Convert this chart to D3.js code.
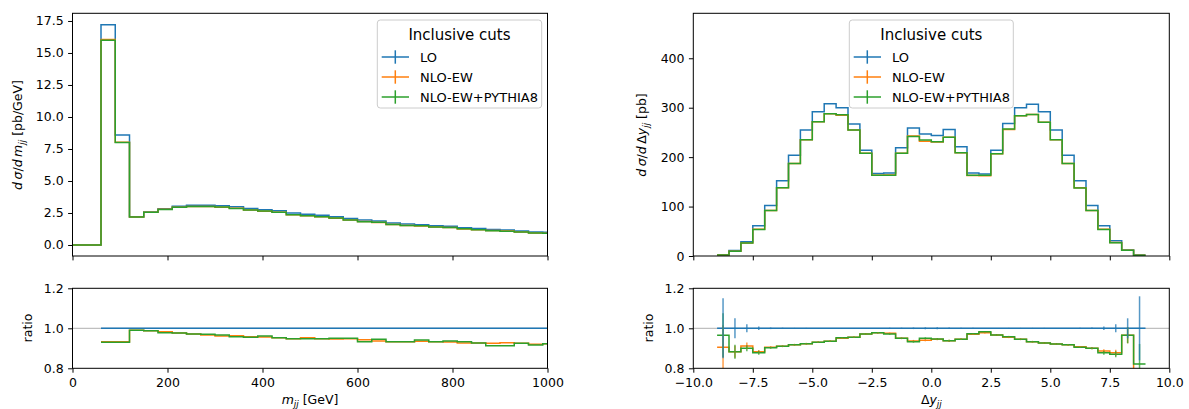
<!DOCTYPE html>
<html><head><meta charset="utf-8">
<script src="https://cdn.jsdelivr.net/npm/d3@7"></script>
<style>
body{margin:0;background:#fff;}
svg{display:block;font-family:"DejaVu Sans",sans-serif;}
</style></head><body>
<svg id="c" width="1189" height="409"></svg>
<script>
// ---------- DATA ----------
const seriesNames = ["LO", "NLO-EW", "NLO-EW+PYTHIA8"];
const legendTitle = "Inclusive cuts";

// m_jj bin edges [GeV]
const mjjEdges = [0,30,60,90,120,150,180,210,240,270,300,330,360,390,420,450,480,510,540,570,600,630,660,690,720,750,780,810,840,870,900,930,960,990,1020];
const mjjLO  = [0,0,17.2,8.6,2.21,2.58,2.84,3.02,3.10,3.10,3.07,2.99,2.86,2.76,2.68,2.50,2.40,2.32,2.21,2.06,1.95,1.87,1.72,1.64,1.59,1.51,1.46,1.35,1.28,1.22,1.17,1.09,1.02,0.99];
const mjjNLO = [0,0,16.05,8.02,2.19,2.55,2.79,2.95,3.01,3.00,2.95,2.88,2.74,2.64,2.55,2.37,2.29,2.20,2.09,1.95,1.84,1.75,1.60,1.53,1.49,1.41,1.36,1.25,1.19,1.13,1.09,1.01,0.94,0.91];
const mjjPY  = [0,0,16.0,8.0,2.19,2.55,2.78,2.95,3.01,3.01,2.97,2.86,2.73,2.66,2.55,2.37,2.28,2.20,2.10,1.96,1.82,1.77,1.60,1.53,1.50,1.41,1.37,1.26,1.19,1.11,1.07,1.01,0.94,0.91];
const mjjRatioLO  = [null,null,1,1,1,1,1,1,1,1,1,1,1,1,1,1,1,1,1,1,1,1,1,1,1,1,1,1,1,1,1,1,1,1];
const mjjRatioNLO = [null,null,0.933,0.933,0.99,0.988,0.983,0.977,0.972,0.967,0.962,0.963,0.958,0.957,0.953,0.948,0.953,0.948,0.947,0.948,0.943,0.937,0.933,0.933,0.935,0.933,0.932,0.927,0.927,0.925,0.928,0.925,0.92,0.923];
const mjjRatioPY  = [null,null,0.930,0.930,0.99,0.988,0.978,0.977,0.972,0.970,0.967,0.958,0.955,0.962,0.953,0.948,0.948,0.948,0.950,0.950,0.933,0.945,0.933,0.933,0.942,0.933,0.937,0.933,0.927,0.913,0.913,0.925,0.917,0.923];

// Delta y_jj bin edges
const dyEdges = [-9,-8.5,-8,-7.5,-7,-6.5,-6,-5.5,-5,-4.5,-4,-3.5,-3,-2.5,-2,-1.5,-1,-0.5,0,0.5,1,1.5,2,2.5,3,3.5,4,4.5,5,5.5,6,6.5,7,7.5,8,8.5,9];
const dyLO  = [2,11,29,61,102,152,204,255,292,308,300,267,214,167,168,219,259,247,244,256,221,168,166,214,268,300,307,292,255,204,152,102,61,31,12,2];
const dyNLO = [1.8,9.7,26.4,53.9,92.3,138.3,187.3,235.4,271.6,288,285,255,208,163.3,163.8,208,242.7,232.2,230.6,240.1,208.8,163,162.3,207,256,283.5,286.4,270.7,235.1,187.3,138,91.8,54.1,27.2,11.6,1.6];
const dyPY  = [1.9,9.7,26.1,53.6,92.1,138.3,187.3,235.4,271.6,288,285.9,255,208,163.3,163.3,208,241.6,234.7,231.1,240.1,208.8,163.5,163.2,207,256.7,283.5,286.4,270.7,235.1,187.3,137.6,91.8,53.6,27,11.6,1.6];
const dyRatioLO  = [1,1,1,1,1,1,1,1,1,1,1,1,1,1,1,1,1,1,1,1,1,1,1,1,1,1,1,1,1,1,1,1,1,1,1,1];
const dyRatioNLO = [0.905,0.883,0.912,0.883,0.905,0.91,0.918,0.923,0.93,0.935,0.95,0.955,0.972,0.978,0.975,0.95,0.937,0.94,0.945,0.938,0.945,0.97,0.978,0.967,0.955,0.945,0.933,0.927,0.922,0.918,0.908,0.9,0.887,0.878,0.965,0.78];
const dyRatioPY  = [0.965,0.883,0.9,0.878,0.903,0.91,0.918,0.923,0.93,0.935,0.953,0.955,0.972,0.978,0.972,0.95,0.933,0.95,0.947,0.938,0.945,0.973,0.983,0.967,0.958,0.945,0.933,0.927,0.922,0.918,0.905,0.9,0.878,0.87,0.965,0.822];
const dyErrLO  = [0.15,0.05,0.02,0.009,0.004,0.003,0.002,0.002,0.002,0.002,0.002,0.002,0.002,0.002,0.003,0.003,0.004,0.005,0.005,0.004,0.003,0.003,0.002,0.002,0.002,0.002,0.002,0.002,0.002,0.002,0.003,0.004,0.009,0.02,0.05,0.16];
const dyErrNLO = [0.11,0.03,0.017,0.008,0.005,0.004,0.004,0.004,0.004,0.004,0.004,0.004,0.004,0.004,0.004,0.004,0.005,0.005,0.005,0.005,0.004,0.004,0.004,0.004,0.004,0.004,0.004,0.004,0.004,0.004,0.004,0.005,0.008,0.015,0.04,0.02];
const dyErrPY  = [0.11,0.035,0.015,0.01,0.005,0.004,0.004,0.004,0.004,0.004,0.004,0.004,0.004,0.004,0.004,0.004,0.005,0.005,0.005,0.005,0.004,0.004,0.004,0.004,0.004,0.004,0.004,0.004,0.004,0.004,0.004,0.005,0.01,0.015,0.04,0.1];

const mjjTicks = [0,200,400,600,800,1000];
const mjjYTicks = [0,2.5,5,7.5,10,12.5,15,17.5];
const dyTicks = [-10,-7.5,-5,-2.5,0,2.5,5,7.5,10];
const dyYTicks = [0,100,200,300,400];
const ratioTicks = [0.8,1.0,1.2];

// ---------- STYLE ----------
const colors = ["#1f77b4","#ff7f0e","#2ca02c"];
const FS = 12.5, TICK = 4.4, PAD = 4.4;
const svg = d3.select("#c");

const L = {x0:72.5, x1:547.5}, R = {x0:693.3, x1:1169.3};
const TOP = {y0:13.3, y1:256}, BOT = {y0:288.3, y1:368.3};

function panel(id, xr, yr, xdom, ydom){
  const x = d3.scaleLinear().domain(xdom).range([xr.x0, xr.x1]);
  const y = d3.scaleLinear().domain(ydom).range([yr.y1, yr.y0]);
  svg.append("clipPath").attr("id", id).append("rect")
    .attr("x", xr.x0).attr("y", yr.y0).attr("width", xr.x1-xr.x0).attr("height", yr.y1-yr.y0);
  const g = svg.append("g").attr("clip-path", `url(#${id})`);
  return {x, y, g, xr, yr};
}

function frame(p, xticks, yticks, fmtX, fmtY, showXLabels){
  const ax = svg.append("g");
  ax.append("rect").attr("x", p.xr.x0).attr("y", p.yr.y0)
    .attr("width", p.xr.x1-p.xr.x0).attr("height", p.yr.y1-p.yr.y0)
    .attr("fill","none").attr("stroke","#000").attr("stroke-width",1);
  const xa = d3.axisBottom(p.x).tickValues(xticks).tickSize(TICK).tickPadding(PAD)
     .tickFormat(showXLabels ? fmtX : () => "");
  const gx = ax.append("g").attr("transform", `translate(0,${p.yr.y1})`).call(xa);
  const ya = d3.axisLeft(p.y).tickValues(yticks).tickSize(TICK).tickPadding(PAD).tickFormat(fmtY);
  const gy = ax.append("g").attr("transform", `translate(${p.xr.x0},0)`).call(ya);
  [gx, gy].forEach(g => {
    g.select(".domain").remove();
    g.selectAll("line").attr("stroke","#000").attr("stroke-width",1);
    g.selectAll("text").attr("font-size", FS).attr("fill","#000").attr("font-family","DejaVu Sans");
  });
  gx.selectAll("text").attr("dy","0.76em");
}

function stepLine(p, edges, vals, color, width){
  const pts = [];
  vals.forEach((v,i) => pts.push([edges[i], v]));
  pts.push([edges[vals.length], vals[vals.length-1]]);
  const line = d3.line().defined(d => d[1] != null)
    .x(d => p.x(d[0])).y(d => p.y(d[1])).curve(d3.curveStepAfter);
  p.g.append("path").attr("d", line(pts)).attr("fill","none")
    .attr("stroke", color).attr("stroke-width", width || 1.5).attr("stroke-linejoin","miter");
}

function errBars(p, edges, vals, errs, color){
  vals.forEach((v,i) => {
    if (v == null) return;
    const cx = p.x((edges[i]+edges[i+1])/2);
    p.g.append("line").attr("x1",cx).attr("x2",cx)
      .attr("y1", p.y(v-errs[i])).attr("y2", p.y(v+errs[i]))
      .attr("stroke", color).attr("stroke-width",1.5).attr("opacity",0.75);
  });
}

function unityLine(p){
  p.g.append("line").attr("x1",p.xr.x0).attr("x2",p.xr.x1)
    .attr("y1",p.y(1)).attr("y2",p.y(1)).attr("stroke","#b0b0b0").attr("stroke-width",1);
}

const fmt1 = d3.format(".1f");
const fmtMinus1 = d => (d < 0 ? "\u2212" : "") + d3.format(".1f")(Math.abs(d));

// ---------- LEFT ----------
const pLT = panel("clipLT", L, TOP, [0,1000], [-0.86,18.1]);
const pLB = panel("clipLB", L, BOT, [0,1000], [0.8,1.2]);
[mjjLO, mjjNLO, mjjPY].forEach((s,i) => stepLine(pLT, mjjEdges, s, colors[i]));
unityLine(pLB);
[mjjRatioLO, mjjRatioNLO, mjjRatioPY].forEach((s,i) => stepLine(pLB, mjjEdges, s, colors[i]));
frame(pLT, mjjTicks, mjjYTicks, d => d, fmt1, false);
frame(pLB, mjjTicks, ratioTicks, d => d, fmt1, true);

// ---------- RIGHT ----------
const pRT = panel("clipRT", R, TOP, [-10,10], [0,491]);
const pRB = panel("clipRB", R, BOT, [-10,10], [0.8,1.2]);
[dyLO, dyNLO, dyPY].forEach((s,i) => stepLine(pRT, dyEdges, s, colors[i]));
unityLine(pRB);
[dyRatioLO, dyRatioNLO, dyRatioPY].forEach((s,i) => stepLine(pRB, dyEdges, s, colors[i]));
errBars(pRB, dyEdges, dyRatioNLO, dyErrNLO, colors[1]);
errBars(pRB, dyEdges, dyRatioPY, dyErrPY, colors[2]);
errBars(pRB, dyEdges, dyRatioLO, dyErrLO, colors[0]);
frame(pRT, dyTicks, dyYTicks, fmtMinus1, d => d, false);
frame(pRB, dyTicks, ratioTicks, fmtMinus1, fmt1, true);

// ---------- LABELS ----------
function mathLabel(x, y, rotate, parts){
  const t = svg.append("text").attr("font-size", FS).attr("fill","#000")
    .attr("text-anchor","middle")
    .attr("transform", `translate(${x},${y})` + (rotate ? " rotate(-90)" : ""));
  parts.forEach(pt => {
    const ts = t.append("tspan").text(pt.t);
    if (pt.i) ts.attr("font-style","italic");
    if (pt.sub) ts.attr("font-size", FS*0.7).attr("dy", 3);
    if (pt.up) ts.attr("dy", -3);
  });
  return t;
}
mathLabel(22, 135, true, [{t:"d\u2009\u03c3",i:1},{t:"/",i:0},{t:"d\u2009m",i:1},{t:"jj",i:1,sub:1},{t:" [pb/GeV]",up:1}]);
mathLabel(646, 135, true, [{t:"d\u2009\u03c3",i:1},{t:"/",i:0},{t:"d\u2009",i:1},{t:"\u0394",i:0},{t:"y",i:1},{t:"jj",i:1,sub:1},{t:" [pb]",up:1}]);
mathLabel(32, 328, true, [{t:"ratio"}]);
mathLabel(653, 328, true, [{t:"ratio"}]);
mathLabel((L.x0+L.x1)/2, 404, false, [{t:"m",i:1},{t:"jj",i:1,sub:1},{t:" [GeV]",up:1}]);
mathLabel((R.x0+R.x1)/2, 404, false, [{t:"\u0394"},{t:"y",i:1},{t:"jj",i:1,sub:1}]);

// ---------- LEGENDS ----------
function legend(x0, x1){
  const g = svg.append("g");
  g.append("rect").attr("x",x0).attr("y",20).attr("width",x1-x0).attr("height",88)
    .attr("rx",3).attr("fill","#fff").attr("fill-opacity",0.8)
    .attr("stroke","#cccccc").attr("stroke-width",1);
  g.append("text").attr("x",(x0+x1)/2).attr("y",39.5).attr("text-anchor","middle")
    .attr("font-size",15).attr("fill","#000").text(legendTitle);
  seriesNames.forEach((n,i) => {
    const cy = 57 + i*20;
    g.append("line").attr("x1",x0+4.4).attr("x2",x0+31.7).attr("y1",cy).attr("y2",cy)
      .attr("stroke",colors[i]).attr("stroke-width",1.5);
    g.append("line").attr("x1",x0+18).attr("x2",x0+18).attr("y1",cy-6.7).attr("y2",cy+6.7)
      .attr("stroke",colors[i]).attr("stroke-width",1.5);
    g.append("text").attr("x",x0+42.7).attr("y",cy+4.6).attr("font-size",13)
      .attr("fill","#000").text(n);
  });
}
legend(377.3, 541.7);
legend(849.3, 1013.3);
</script>
</body></html>
